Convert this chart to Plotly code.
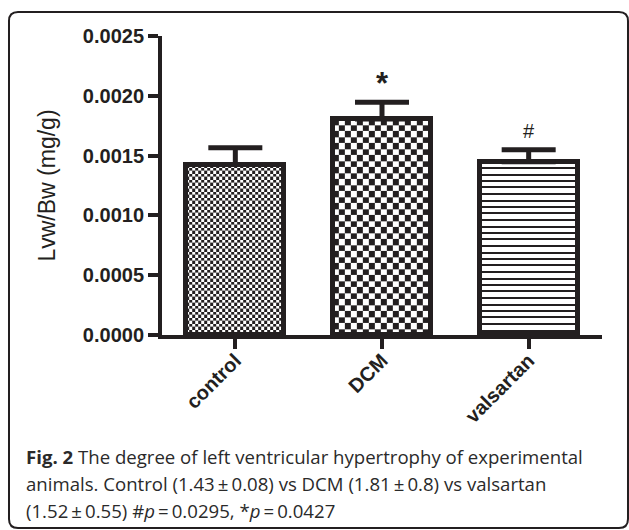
import base64
import plotly.graph_objects as go

# ---------------- data ----------------
categories = ["control", "DCM", "valsartan"]
means = [0.001425, 0.001807, 0.001448]
sem = [0.00014, 0.00014, 0.00010]
marks = ["", "*", "#"]
y_ticks = [0.0, 0.0005, 0.0010, 0.0015, 0.0020, 0.0025]
y_tick_labels = ["0.0000", "0.0005", "0.0010", "0.0015", "0.0020", "0.0025"]
y_title = "Lvw/Bw (mg/g)"
caption_lines = [
    "<b>Fig. 2</b> The degree of left ventricular hypertrophy of experimental",
    "animals. Control (1.43\u2009\u00b1\u20090.08) vs DCM (1.81\u2009\u00b1\u20090.8) vs valsartan",
    "(1.52\u2009\u00b1\u20090.55) #<i>p</i>\u2009=\u20090.0295, *<i>p</i>\u2009=\u20090.0427",
]

# ---------------- style / layout ----------------
W, H = 629, 530
ML, MR, MT, MB = 162, 27, 36, 195
PW, PH = W - ML - MR, H - MT - MB
YMAX = 0.0025
BW = 0.67
INK = "#231f20"
fills = [("checker", 3), ("checker", 6), ("stripes", 6.5)]   # texture per bar
FONT = "Liberation Sans, Arial, sans-serif"
CAP_FONT = "Open Sans, Noto Sans, sans-serif"

xpx = PW / 3.0
ypx = PH / YMAX


def texture_src(wpx, hpx, kind, sq):
    head = (f'<svg xmlns="http://www.w3.org/2000/svg" width="{wpx:.1f}" height="{hpx:.1f}" '
            f'viewBox="0 0 {wpx:.1f} {hpx:.1f}" preserveAspectRatio="none" shape-rendering="crispEdges">')
    if kind == "checker":
        p = 2 * sq
        body = (f'<defs><pattern id="c" width="{p}" height="{p}" patternUnits="userSpaceOnUse">'
                f'<rect width="{p}" height="{p}" fill="#ffffff"/>'
                f'<rect width="{sq}" height="{sq}" fill="{INK}"/>'
                f'<rect x="{sq}" y="{sq}" width="{sq}" height="{sq}" fill="{INK}"/>'
                f'</pattern></defs><rect width="100%" height="100%" fill="url(#c)"/>')
    else:
        rows = []
        y = 5.0
        while y < hpx - 3:
            rows.append(f'<rect x="0" y="{round(y)}" width="{wpx:.1f}" height="2" fill="{INK}"/>')
            y += sq
        body = f'<rect width="100%" height="100%" fill="#ffffff"/>' + "".join(rows)
    svg = head + body + "</svg>"
    return "data:image/svg+xml;base64," + base64.b64encode(svg.encode()).decode()


xs = list(range(len(categories)))

fig = go.Figure()
fig.add_trace(go.Bar(
    x=xs, y=means, width=BW,
    marker=dict(color="rgba(0,0,0,0)", line=dict(color=INK, width=5)),
    error_y=dict(type="data", symmetric=False, array=sem, arrayminus=[0] * len(sem),
                 thickness=5, width=27, color=INK),
    showlegend=False, hoverinfo="skip",
))

images = []
for i, (m, (kind, sq)) in enumerate(zip(means, fills)):
    images.append(dict(
        source=texture_src(BW * xpx, m * ypx, kind, sq),
        xref="x", yref="y", x=i - BW / 2, y=m, sizex=BW, sizey=m,
        xanchor="left", yanchor="top", sizing="stretch", layer="below",
    ))

annotations = []
for i, (m, e, t) in enumerate(zip(means, sem, marks)):
    if t:
        star = t == "*"
        annotations.append(dict(
            x=i, y=m + e, xref="x", yref="y", text=f"<b>{t}</b>" if star else t,
            showarrow=False, yanchor="bottom", yshift=-1 if star else 6,
            font=dict(family=FONT, size=31 if star else 20, color=INK),
        ))


def px2paper(px, py):
    return (px - ML) / PW, 1 - (py - MT) / PH


cap_x = 24
cap_baselines = [463, 490, 517]
CAP_SIZE = 18.6
for line, yb in zip(caption_lines, cap_baselines):
    ax_, ay_ = px2paper(cap_x, yb - 0.36 * CAP_SIZE)
    annotations.append(dict(
        x=ax_, y=ay_, xref="paper", yref="paper", text=line, showarrow=False,
        xanchor="left", yanchor="middle", align="left",
        font=dict(family=CAP_FONT, size=CAP_SIZE, color="#2a2a2a"),
    ))

# rounded frame
bx0, by0, bx1, by1, r = 9, 12, 628, 528, 9
def P(px, py):
    a, b = px2paper(px, py)
    return f"{a:.5f},{b:.5f}"
frame_path = (
    f"M {P(bx0 + r, by0)} L {P(bx1 - r, by0)} Q {P(bx1, by0)} {P(bx1, by0 + r)} "
    f"L {P(bx1, by1 - r)} Q {P(bx1, by1)} {P(bx1 - r, by1)} "
    f"L {P(bx0 + r, by1)} Q {P(bx0, by1)} {P(bx0, by1 - r)} "
    f"L {P(bx0, by0 + r)} Q {P(bx0, by0)} {P(bx0 + r, by0)} Z"
)

fig.update_layout(
    width=W, height=H,
    margin=dict(l=ML, r=MR, t=MT, b=MB, autoexpand=False),
    paper_bgcolor="#ffffff", plot_bgcolor="rgba(0,0,0,0)",
    bargap=0,
    images=images,
    annotations=annotations,
    shapes=[dict(type="path", path=frame_path, xref="paper", yref="paper",
                 line=dict(color=INK, width=2), fillcolor="rgba(0,0,0,0)", layer="below")],
    xaxis=dict(
        range=[-0.5, len(categories) - 0.5], tickvals=xs, ticktext=categories,
        tickangle=-45, ticks="outside", ticklen=10, tickwidth=4, tickcolor=INK,
        ticklabelstandoff=-8,
        showline=True, linewidth=4, linecolor=INK, showgrid=False, zeroline=False,
        tickfont=dict(family=FONT, size=20, color=INK, weight="bold"),
        fixedrange=True,
    ),
    yaxis=dict(
        range=[0, YMAX], tickvals=y_ticks, ticktext=y_tick_labels,
        ticks="outside", ticklen=10, tickwidth=4, tickcolor=INK,
        showline=True, linewidth=4, linecolor=INK, showgrid=False, zeroline=False,
        tickfont=dict(family=FONT, size=20, color=INK, weight="bold"),
        title=dict(text=y_title, standoff=22,
                   font=dict(family=FONT, size=23, color=INK)),
        fixedrange=True,
    ),
)

fig.write_html("out.html")
